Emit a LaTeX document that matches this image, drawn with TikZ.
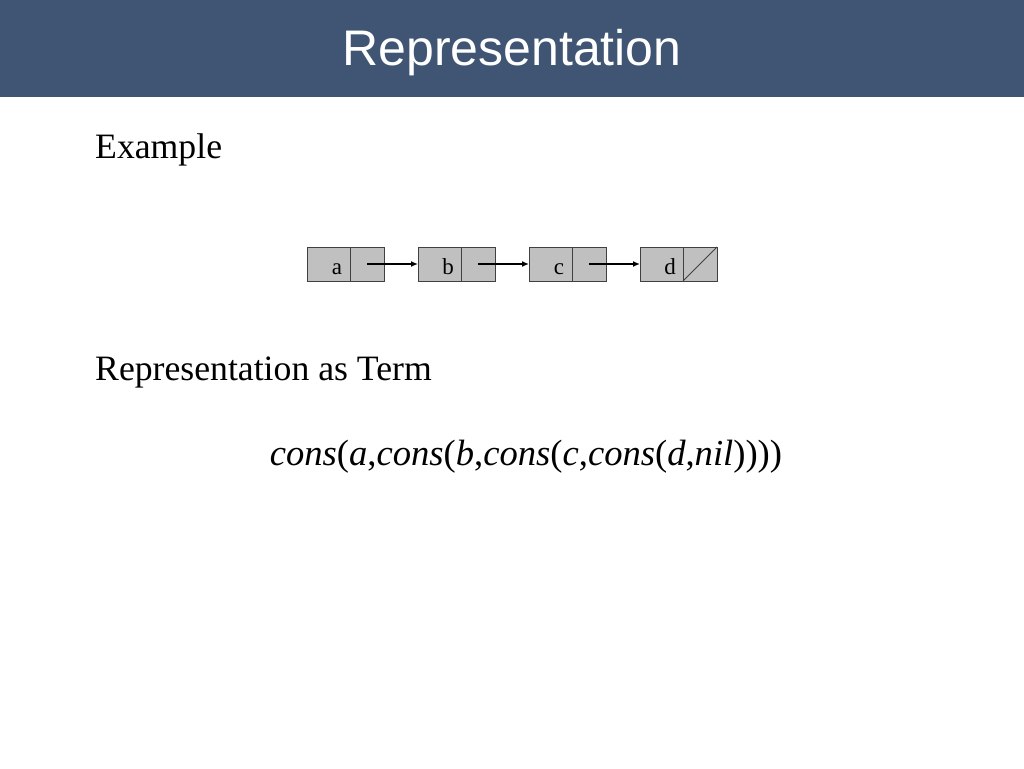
\documentclass[tikz,border=0pt]{standalone}
\usepackage{fontspec}
\setmainfont{Liberation Serif}
\newfontfamily\headfont{Liberation Sans}
\usetikzlibrary{arrows.meta,positioning}
\definecolor{headblue}{HTML}{3F5573}
\definecolor{cellgray}{HTML}{C0C0C0}
\definecolor{celledge}{HTML}{404040}
\tikzset{
  datacell/.style={draw=celledge, fill=cellgray, line width=0.8pt, minimum width=43pt, minimum height=34pt, inner sep=0pt, outer sep=0pt, anchor=north west, text height=20pt, text depth=0pt, font=\fontsize{23pt}{23pt}\selectfont},
  linkcell/.style={draw=celledge, fill=cellgray, line width=0.8pt, minimum width=34pt, minimum height=34pt, inner sep=0pt, outer sep=0pt, right=0pt of #1},
  link/.style={line width=1.6pt, -{Latex[length=7pt,width=6pt]}},
  bodytext/.style={anchor=base west, inner sep=0pt, font=\fontsize{35.7pt}{36pt}\selectfont}
}
\begin{document}
\begin{tikzpicture}[x=1pt,y=-1pt]
  \useasboundingbox (0,0) rectangle (1024,768);
  \fill[headblue] (0,0) rectangle (1024,97);
  \node[text=white, font=\headfont\fontsize{50pt}{50pt}\selectfont] (title) at (512,53) {Representation};

  \node[bodytext] (example) at (95,158) {Example};

  % the list cells
  \node[datacell] (a) at (307,247) {\hspace*{17pt}a};
  \node[linkcell=a] (an) {};
  \node[datacell] (b) at (418,247) {\hspace*{17pt}b};
  \node[linkcell=b] (bn) {};
  \node[datacell] (c) at (529,247) {\hspace*{17pt}c};
  \node[linkcell=c] (cn) {};
  \node[datacell] (d) at (640,247) {\hspace*{17pt}d};
  \node[linkcell=d] (dn) {};
  \draw[celledge, line width=0.8pt] (dn.south west) -- (dn.north east);

  \draw[link] (an.center) -- (b.west);
  \draw[link] (bn.center) -- (c.west);
  \draw[link] (cn.center) -- (d.west);

  \node[bodytext] (astext) at (95,380) {Representation as Term};
  \node[font=\fontsize{36.6pt}{37pt}\selectfont, inner sep=0pt] (term) at (526,457)
    {\textit{cons}(\textit{a},\textit{cons}(\textit{b},\textit{cons}(\textit{c},\textit{cons}(\textit{d},\textit{nil}))))};
\end{tikzpicture}
\end{document}
